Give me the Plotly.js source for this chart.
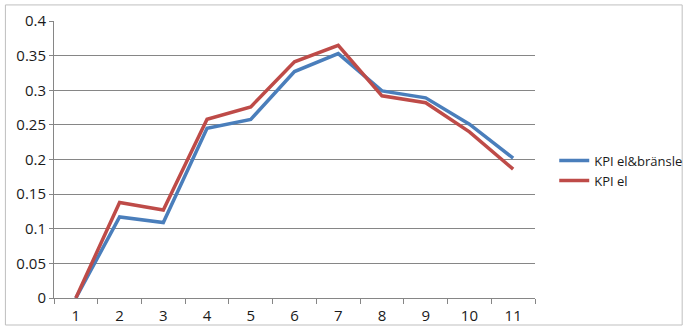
<!DOCTYPE html>
<html>
<head>
<meta charset="utf-8">
<script src="https://cdn.plot.ly/plotly-3.0.1.min.js"></script>
<style>html,body{margin:0;padding:0;background:#fff;}#chart{width:700px;height:336px;}</style>
</head>
<body>
<div id="chart"></div>
<script>
const categories = ["1","2","3","4","5","6","7","8","9","10","11"];
const kpiElBransle = [0, 0.117, 0.109, 0.245, 0.258, 0.327, 0.353, 0.299, 0.289, 0.251, 0.202];
const kpiEl = [0, 0.138, 0.127, 0.258, 0.276, 0.341, 0.365, 0.292, 0.282, 0.240, 0.186];
const seriesNames = ["KPI el&bränsle", "KPI el"];
const yTicks = [0, 0.05, 0.1, 0.15, 0.2, 0.25, 0.3, 0.35, 0.4];
const yTickText = ["0", "0.05", "0.1", "0.15", "0.2", "0.25", "0.3", "0.35", "0.4"];

const font = {family: "Open Sans, Liberation Sans, sans-serif", size: 15, color: "#1a1a1a"};

const traces = [
  {x: categories, y: kpiElBransle, name: seriesNames[0], type: "scatter", mode: "lines",
   line: {color: "#4a7ebb", width: 3.5}},
  {x: categories, y: kpiEl, name: seriesNames[1], type: "scatter", mode: "lines",
   line: {color: "#be4b48", width: 3.5}}
];

const layout = {
  width: 700, height: 336,
  margin: {l: 54, r: 162, t: 21, b: 38},
  paper_bgcolor: "#ffffff", plot_bgcolor: "#ffffff",
  font: font,
  showlegend: true,
  legend: {x: 1.04, xanchor: "left", y: 0.46, yanchor: "middle", font: {size: 13, family: font.family, color: "#1a1a1a"},
           itemwidth: 30, tracegroupgap: 4, bgcolor: "rgba(0,0,0,0)"},
  xaxis: {type: "category", range: [-0.5, 10.5], tickson: "boundaries", ticks: "outside", ticklen: 5, tickcolor: "#868686",
          showline: true, linecolor: "#868686", linewidth: 1, showgrid: false, zeroline: false,
          tickfont: font, ticklabelstandoff: 4, fixedrange: true},
  yaxis: {range: [0, 0.4], tickvals: yTicks, ticktext: yTickText, ticks: "outside", ticklen: 4, tickcolor: "#868686",
          showline: true, linecolor: "#868686", linewidth: 1, showgrid: true, gridcolor: "#868686", gridwidth: 1,
          zeroline: false, tickfont: font, fixedrange: true},
  shapes: [
    {type: "rect", xref: "paper", yref: "paper", x0: -0.101, x1: 1.306, y0: -0.0975, y1: 1.058,
     line: {color: "#bfbfbf", width: 1}, fillcolor: "rgba(0,0,0,0)", layer: "below"}
  ]
};

Plotly.newPlot("chart", traces, layout, {displayModeBar: false, staticPlot: true});
</script>
</body>
</html>
